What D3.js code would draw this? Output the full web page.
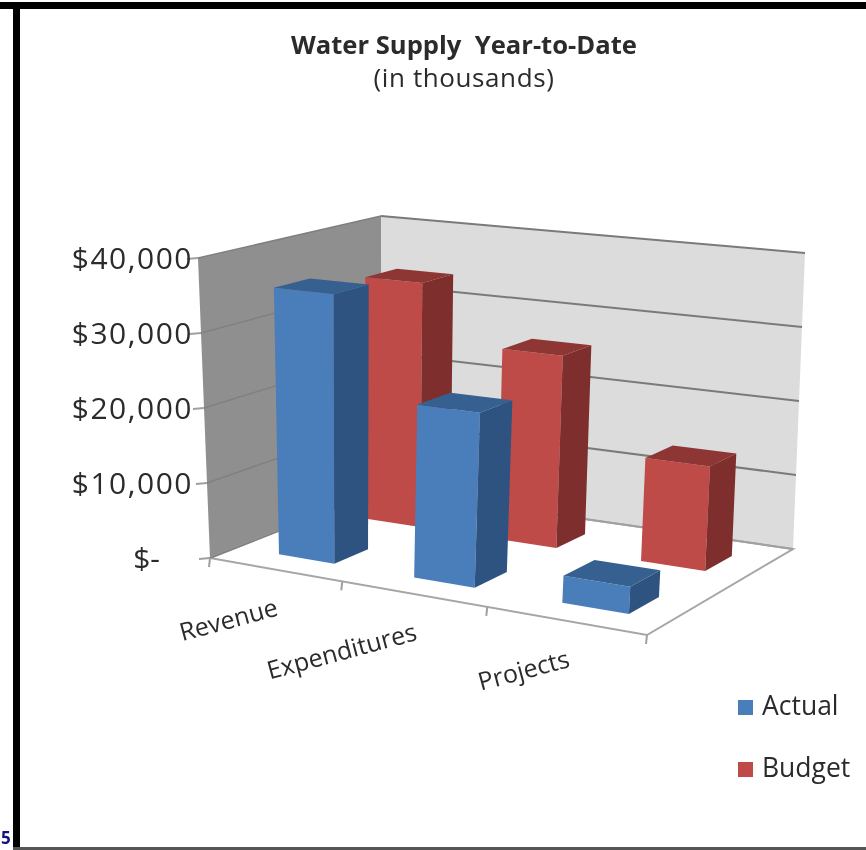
<!DOCTYPE html>
<html>
<head>
<meta charset="utf-8">
<script src="https://cdn.jsdelivr.net/npm/d3@7"></script>
<style>
  html, body { margin: 0; padding: 0; background: #fff; }
  svg { display: block; filter: blur(0.6px); }
  text { font-family: "Open Sans", "Noto Sans", sans-serif; fill: #2b2b2b; }
</style>
</head>
<body>
<svg id="chart" width="866" height="850"></svg>
<script>
// values
const categories = ["Revenue", "Expenditures", "Projects"]
const seriesNames = ["Actual", "Budget"]
const actual = [35700, 22500, 3400]
const budget = [33900, 26000, 13700]
const yTicks = [0, 10000, 20000, 30000, 40000]

const seriesValues = { Actual: actual, Budget: budget }
const palette = {
    Actual: { front: "#4a7ebb", side: "#2f5380", top: "#36608f", key: "#4a7ebb" },
    Budget: { front: "#be4b48", side: "#7e2f2d", top: "#8e3634", key: "#be4b48" }
}

const svg = d3.select("#chart")

// corners of the chart box on screen: front-left, front-right, back-right, back-left
const floorQuad = [[210, 558], [647, 635], [793, 549], [383, 490]]
const topQuad = [[198, 258], [665, 305], [805, 253], [381, 216]]

// unit square -> quad homography
function homography(q) {
    const [[x0, y0], [x1, y1], [x2, y2], [x3, y3]] = q
    const dx1 = x1 - x2, dx2 = x3 - x2, sx = x0 - x1 + x2 - x3
    const dy1 = y1 - y2, dy2 = y3 - y2, sy = y0 - y1 + y2 - y3
    const den = dx1 * dy2 - dx2 * dy1
    const g = (sx * dy2 - dx2 * sy) / den
    const h = (dx1 * sy - sx * dy1) / den
    const a = x1 - x0 + g * x1, b = x3 - x0 + h * x3
    const d = y1 - y0 + g * y1, e = y3 - y0 + h * y3
    return (u, v) => {
        const w = g * u + h * v + 1
        return [(a * u + b * v + x0) / w, (d * u + e * v + y0) / w]
    }
}
const floorAt = homography(floorQuad)
const topAt = homography(topQuad)

// u across, v into the picture, t up (all 0..1)
function project(u, v, t) {
    const f = floorAt(u, v), c = topAt(u, v)
    return [f[0] + (c[0] - f[0]) * t, f[1] + (c[1] - f[1]) * t]
}

const xScale = d3.scaleBand().domain(categories).range([0.012, 1.012]).paddingInner(0.58).paddingOuter(0.29)
const zScale = d3.scaleBand().domain(seriesNames).range([-0.01, 0.99]).paddingInner(0.62).paddingOuter(0.31)
const yScale = d3.scaleLinear().domain([0, 40000]).range([0, 1])
const path = pts => d3.line()(pts) + "Z"

// walls and floor
const walls = svg.append("g")
walls.append("path")
    .attr("fill", "#8f8f8f")
    .attr("d", path([project(0, 0, 0), project(0, 0, 1), project(0, 1, 1), project(0, 1, 0)]))
walls.append("path")
    .attr("fill", "#dcdcdc")
    .attr("d", path([project(0, 1, 0), project(0, 1, 1), project(1, 1, 1), project(1, 1, 0)]))
walls.append("path")
    .attr("fill", "#fff")
    .attr("stroke", "#a6a6a6")
    .attr("stroke-width", 2)
    .attr("d", path([project(0, 0, 0), project(1, 0, 0), project(1, 1, 0), project(0, 1, 0)]))

// gridlines on both walls
yTicks.forEach(tick => {
    const t = yScale(tick)
    walls.append("path")
        .attr("fill", "none")
        .attr("stroke", tick === 0 ? "#a0a0a0" : "#7a7a7a")
        .attr("stroke-width", 2)
        .attr("d", d3.line()([project(0, 1, t), project(1, 1, t)]))
    walls.append("path")
        .attr("fill", "none")
        .attr("stroke", "#808080")
        .attr("stroke-width", 1.5)
        .attr("d", d3.line()([project(0, 0, t), project(0, 1, t)]))
    // tick mark and label on the front edge of the side wall
    const p = project(0, 0, t)
    walls.append("path")
        .attr("fill", "none")
        .attr("stroke", "#a0a0a0")
        .attr("stroke-width", 2)
        .attr("d", d3.line()([[p[0] - 11, p[1] + 1], p]))
    svg.append("text")
        .text(tick === 0 ? "$-" : d3.format("$,")(tick))
        .attr("x", tick === 0 ? 160 : 193)
        .attr("y", p[1])
        .attr("dy", "0.35em")
        .attr("text-anchor", "end")
        .attr("font-size", 30)
        .attr("letter-spacing", tick === 0 ? 0 : 1.5)
})

// category ticks along the front edge of the floor
d3.range(categories.length + 1).forEach(i => {
    const p = project(i / categories.length, 0, 0)
    walls.append("path")
        .attr("fill", "none")
        .attr("stroke", "#a0a0a0")
        .attr("stroke-width", 2)
        .attr("d", d3.line()([p, [p[0] - 1, p[1] + 9]]))
})

// bars, back row first
const rows = seriesNames.slice().reverse()
rows.forEach(name => {
    const colors = palette[name]
    const v0 = zScale(name), v1 = v0 + zScale.bandwidth()
    categories.forEach((cat, i) => {
        const u0 = xScale(cat), u1 = u0 + xScale.bandwidth()
        const t = yScale(seriesValues[name][i])
        const bar = svg.append("g").attr("class", "bar")
        bar.append("path").attr("fill", colors.front)
            .attr("d", path([project(u0, v0, 0), project(u1, v0, 0), project(u1, v0, t), project(u0, v0, t)]))
        bar.append("path").attr("fill", colors.side)
            .attr("d", path([project(u1, v0, 0), project(u1, v1, 0), project(u1, v1, t), project(u1, v0, t)]))
        bar.append("path").attr("fill", colors.top)
            .attr("d", path([project(u0, v0, t), project(u1, v0, t), project(u1, v1, t), project(u0, v1, t)]))
    })
})

// category labels, right end hangs under the band centre
categories.forEach(cat => {
    const p = project(xScale(cat) + xScale.bandwidth() / 2, 0, 0)
    svg.append("text")
        .text(cat)
        .attr("text-anchor", "end")
        .attr("font-size", 25)
        .attr("transform", `translate(${p[0]},${p[1] + 45}) rotate(-15)`)
})

// title
svg.append("text").text("Water Supply  Year-to-Date")
    .attr("x", 464).attr("y", 54)
    .attr("text-anchor", "middle")
    .attr("font-size", 25.6).attr("font-weight", "bold")
    .style("white-space", "pre")
svg.append("text").text("(in thousands)")
    .attr("x", 464).attr("y", 87)
    .attr("text-anchor", "middle")
    .attr("font-size", 26)
    .attr("letter-spacing", 0.6)

// legend
seriesNames.forEach((name, i) => {
    const g = svg.append("g").attr("transform", `translate(738,${700 + i * 62})`)
    g.append("rect").attr("width", 15).attr("height", 15).attr("fill", palette[name].key)
    g.append("text").text(name).attr("x", 24).attr("y", 15).attr("font-size", 26.5)
})

// picture frame: thick black top and left, thin grey bottom
svg.append("rect").attr("x", 0).attr("y", 2).attr("width", 866).attr("height", 7).attr("fill", "#000")
svg.append("rect").attr("x", 13).attr("y", 2).attr("width", 7).attr("height", 848).attr("fill", "#000")
svg.append("rect").attr("x", 13).attr("y", 847).attr("width", 853).attr("height", 3).attr("fill", "#555")
svg.append("text").text("5")
    .attr("x", 1).attr("y", 844)
    .attr("font-size", 17).attr("font-weight", "bold")
    .style("fill", "#14147a")
</script>
</body>
</html>
